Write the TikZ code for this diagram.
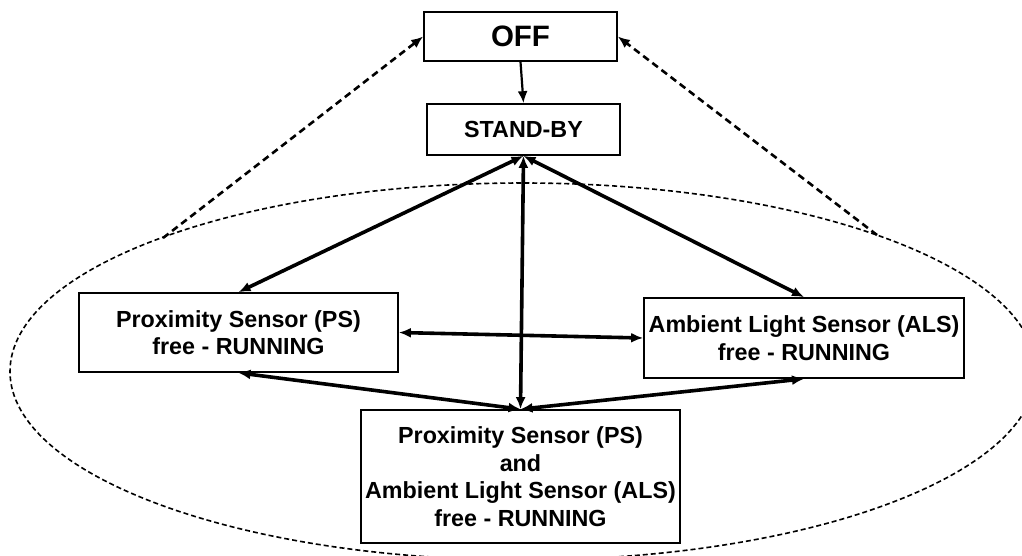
\documentclass[tikz,border=0pt]{standalone}
\usepackage{fontspec}
\setmainfont{Liberation Sans}
\usetikzlibrary{arrows.meta}
\begin{document}
\begin{tikzpicture}[x=1pt,y=-1pt,
  box/.style={draw,line width=1.7pt,fill=white,rectangle,inner sep=0pt,align=center,font=\bfseries\fontsize{23.3}{27.5}\selectfont},
  tip/.style={-{Latex[length=12pt,width=10pt]}},
  dtip/.style={{Latex[length=12pt,width=10pt]}-{Latex[length=12pt,width=10pt]}},
  thickarrow/.style={line width=3.6pt},
  ellipsestyle/.style={line width=1.6pt,dash pattern=on 5pt off 3pt},
  dashedarrow/.style={line width=2.6pt,dash pattern=on 7pt off 4.5pt}]
\useasboundingbox (0,0) rectangle (1022,555);
\clip (0,0) rectangle (1022,555);
\draw[ellipsestyle] (523,371.5) ellipse [x radius=513, y radius=188.5];
\node[box,minimum width=193pt,minimum height=49pt,font=\bfseries\fontsize{29.5}{33}\selectfont] (off) at (520.5,36.5) {OFF};
\node[box,minimum width=193pt,minimum height=51pt] (sb) at (523.5,129.5) {STAND-BY};
\node[box,minimum width=319pt,minimum height=79pt] (ps) at (238.5,332.5) {Proximity Sensor (PS)\\free - RUNNING};
\node[box,minimum width=320pt,minimum height=80pt] (als) at (804,338) {Ambient Light Sensor (ALS)\\free - RUNNING};
\node[box,minimum width=319pt,minimum height=133pt] (bot) at (520.5,476.5) {Proximity Sensor (PS)\\and\\Ambient Light Sensor (ALS)\\free - RUNNING};
\coordinate (lstart) at (163,238);
\coordinate (rstart) at (877,235);
\draw[dashedarrow,tip] (lstart) -- (off.west);
\draw[dashedarrow,tip] (rstart) -- (off.east);
\draw[line width=2.2pt,tip] (off.south) -- (sb.north);
\draw[thickarrow,dtip] (sb.south) -- (ps.north);
\draw[thickarrow,dtip] (sb.south) -- (als.north);
\draw[thickarrow,dtip] (sb.south) -- (bot.north);
\draw[thickarrow,dtip] (ps.east) -- (als.west);
\draw[thickarrow,dtip] (ps.south) -- (bot.north);
\draw[thickarrow,dtip] (bot.north) -- (als.south);
\end{tikzpicture}
\end{document}
